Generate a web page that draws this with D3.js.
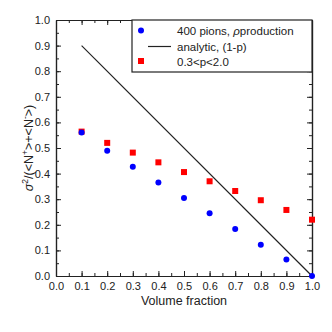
<!DOCTYPE html>
<html>
<head>
<meta charset="utf-8">
<script src="https://cdn.jsdelivr.net/npm/d3@7"></script>
<style>
  body { margin: 0; background: #fff; }
  text { font-family: "Liberation Sans", Arial, sans-serif; fill: #222; }
</style>
</head>
<body>
<div id="container"></div>
<script>
const w = 332;
const h = 332;
const margin = {left: 56, right: 20, top: 20, bottom: 56};

// data
let fractions = [0.1, 0.2, 0.3, 0.4, 0.5, 0.6, 0.7, 0.8, 0.9, 1.0];
let pions = [0.561, 0.489, 0.427, 0.365, 0.305, 0.245, 0.184, 0.122, 0.064, 0.0];
let pRange = [0.564, 0.52, 0.482, 0.444, 0.406, 0.37, 0.332, 0.296, 0.258, 0.22];
let analytic = [[0.1, 0.9], [1.0, 0.0]];
let ticks = [0, 0.1, 0.2, 0.3, 0.4, 0.5, 0.6, 0.7, 0.8, 0.9, 1.0];
let minorTicks = d3.range(0, 1.0001, 0.05);

let xScale = d3.scaleLinear().domain([0, 1]).range([margin.left, w - margin.right]);
let yScale = d3.scaleLinear().domain([0, 1]).range([h - margin.bottom, margin.top]);

let viz = d3.select("#container").append("svg").attr("width", w).attr("height", h);

// axes, ticks on all four sides pointing inward
function styleAxis(g){
    g.select(".domain").attr("stroke", "#222").attr("stroke-width", 1.2);
    g.selectAll(".tick line").attr("stroke", "#222");
    g.selectAll(".tick text").attr("font-size", 11).attr("fill", "#222")
      .attr("font-family", "Liberation Sans, Arial, sans-serif");
}
let fmt = d3.format(".1f");

let xAxis = viz.append("g").attr("transform", "translate(0," + (h - margin.bottom) + ")")
    .call(d3.axisBottom(xScale).tickValues(ticks).tickFormat(fmt).tickSizeInner(-5).tickSizeOuter(0).tickPadding(6));
styleAxis(xAxis);
let xMinor = viz.append("g").attr("transform", "translate(0," + (h - margin.bottom) + ")")
    .call(d3.axisBottom(xScale).tickValues(minorTicks).tickFormat("").tickSizeInner(-3).tickSizeOuter(0));
styleAxis(xMinor);

let xTop = viz.append("g").attr("transform", "translate(0," + margin.top + ")")
    .call(d3.axisTop(xScale).tickValues(ticks).tickFormat("").tickSizeInner(-5).tickSizeOuter(0));
styleAxis(xTop);
let xTopMinor = viz.append("g").attr("transform", "translate(0," + margin.top + ")")
    .call(d3.axisTop(xScale).tickValues(minorTicks).tickFormat("").tickSizeInner(-3).tickSizeOuter(0));
styleAxis(xTopMinor);

let yAxis = viz.append("g").attr("transform", "translate(" + margin.left + ",0)")
    .call(d3.axisLeft(yScale).tickValues(ticks).tickFormat(fmt).tickSizeInner(-5).tickSizeOuter(0).tickPadding(6));
styleAxis(yAxis);
let yMinor = viz.append("g").attr("transform", "translate(" + margin.left + ",0)")
    .call(d3.axisLeft(yScale).tickValues(minorTicks).tickFormat("").tickSizeInner(-3).tickSizeOuter(0));
styleAxis(yMinor);

let yRight = viz.append("g").attr("transform", "translate(" + (w - margin.right) + ",0)")
    .call(d3.axisRight(yScale).tickValues(ticks).tickFormat("").tickSizeInner(-5).tickSizeOuter(0));
styleAxis(yRight);
let yRightMinor = viz.append("g").attr("transform", "translate(" + (w - margin.right) + ",0)")
    .call(d3.axisRight(yScale).tickValues(minorTicks).tickFormat("").tickSizeInner(-3).tickSizeOuter(0));
styleAxis(yRightMinor);

// analytic line
viz.append("path")
    .datum(analytic)
    .attr("d", d3.line().x(function(d){ return xScale(d[0]) }).y(function(d){ return yScale(d[1]) }))
    .attr("stroke", "#222")
    .attr("stroke-width", 1.2)
    .attr("fill", "none");

// red squares
viz.selectAll(".sq").data(fractions).enter().append("rect")
    .attr("x", function(d){ return xScale(d) - 3 })
    .attr("y", function(d, i){ return yScale(pRange[i]) - 3 })
    .attr("width", 6)
    .attr("height", 6)
    .attr("fill", "#f00");

// blue dots
viz.selectAll(".dot").data(fractions).enter().append("circle")
    .attr("cx", function(d){ return xScale(d) })
    .attr("cy", function(d, i){ return yScale(pions[i]) })
    .attr("r", 3)
    .attr("fill", "#00f");

// legend
let lg = viz.append("g");
lg.append("rect")
    .attr("x", 132).attr("y", margin.top)
    .attr("width", w - margin.right - 132).attr("height", 52)
    .attr("fill", "#fff").attr("stroke", "#222").attr("stroke-width", 1.2);
lg.append("circle").attr("cx", 141).attr("cy", 30.5).attr("r", 3).attr("fill", "#00f");
lg.append("line").attr("x1", 148).attr("x2", 171).attr("y1", 46.5).attr("y2", 46.5)
    .attr("stroke", "#222").attr("stroke-width", 1.2);
lg.append("rect").attr("x", 138).attr("y", 58).attr("width", 6).attr("height", 6).attr("fill", "#f00");

let t1 = lg.append("text").attr("x", 177).attr("y", 35).attr("font-size", 11.5);
t1.append("tspan").text("400 pions, ");
t1.append("tspan").attr("font-style", "italic").text("ρ");
t1.append("tspan").text("production");
lg.append("text").attr("x", 177).attr("y", 50.5).attr("font-size", 11.5).text("analytic, (1-p)");
lg.append("text").attr("x", 177).attr("y", 65.5).attr("font-size", 11.5).text("0.3<p<2.0");

// axis titles
viz.append("text")
    .attr("x", xScale(0.5)).attr("y", 305)
    .attr("text-anchor", "middle").attr("font-size", 12.5)
    .text("Volume fraction");

let yt = viz.append("text")
    .attr("transform", "translate(33," + yScale(0.5) + ") rotate(-90)")
    .attr("text-anchor", "middle").attr("font-size", 12.5);
yt.append("tspan").attr("font-style", "italic").text("σ");
yt.append("tspan").attr("dy", -5).attr("font-size", 8.5).text("2");
yt.append("tspan").attr("dy", 5).text("/(<N");
yt.append("tspan").attr("dy", -5).attr("font-size", 8.5).text("+");
yt.append("tspan").attr("dy", 5).text(">+<N");
yt.append("tspan").attr("dy", -5).attr("font-size", 8.5).text("-");
yt.append("tspan").attr("dy", 5).text(">)");
</script>
</body>
</html>
